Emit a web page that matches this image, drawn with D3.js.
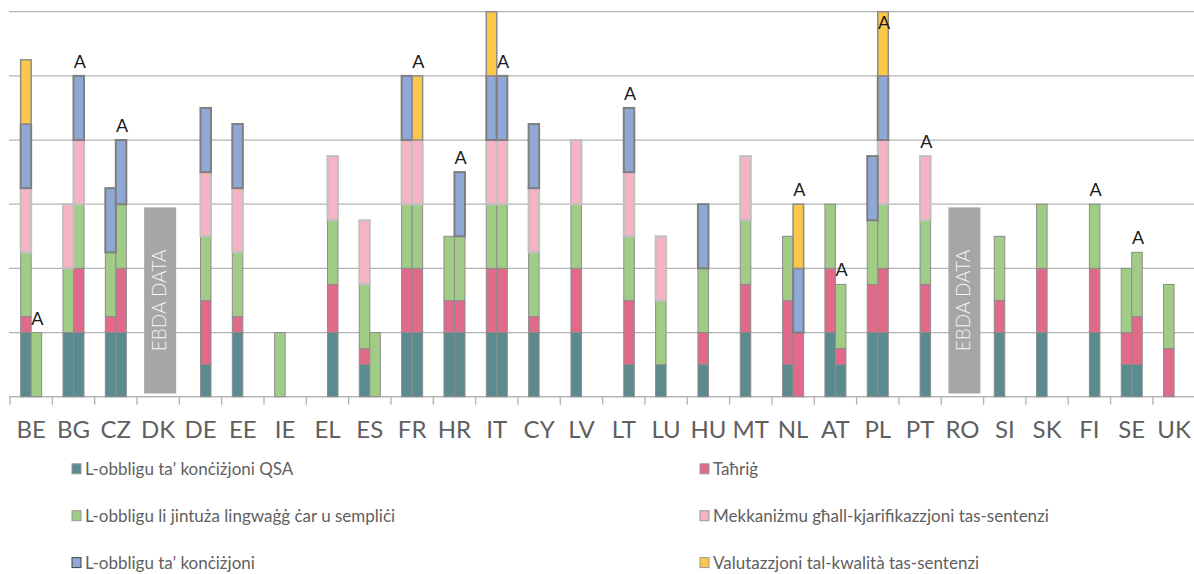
<!DOCTYPE html>
<html><head>
<meta charset="utf-8">
<title>Stacked bars</title>
<script src="https://cdnjs.cloudflare.com/ajax/libs/d3/7.8.5/d3.min.js"></script>
<style>
body { margin: 0; background: #fff; }
svg text { font-family: Lato, 'Open Sans', sans-serif; }
</style>
</head>
<body>
<div class="hull"></div>
<script>
// country codes along the axis
var countries = ["BE","BG","CZ","DK","DE","EE","IE","EL","ES","FR","HR","IT","CY","LV",
                 "LT","LU","HU","MT","NL","AT","PL","PT","RO","SI","SK","FI","SE","UK"];

// each series: [first bar, second bar] per country
var qsa   = [[1,0],[1,1],[1,1],[0,0],[0,.5],[1,0],[0,0],[0,1],[.5,0],[1,1],[1,1],[1,1],[1,0],[1,0],
             [0,.5],[.5,0],[.5,0],[1,0],[.5,0],[1,.5],[1,1],[0,1],[0,0],[1,0],[1,0],[0,1],[.5,.5],[0,0]];
var tahrig= [[.25,0],[0,1],[.25,1],[0,0],[0,1],[.25,0],[0,0],[0,.75],[.25,0],[1,1],[.5,.5],[1,1],[.25,0],[1,0],
             [0,1],[0,0],[.5,0],[.75,0],[1,1],[1,.25],[.75,1],[0,.75],[0,0],[.5,0],[1,0],[0,1],[.5,.75],[.75,0]];
var ling  = [[1,1],[1,1],[1,1],[0,0],[0,1],[1,0],[1,0],[0,1],[1,1],[1,1],[1,1],[1,1],[1,0],[1,0],
             [0,1],[1,0],[1,0],[1,0],[1,0],[1,1],[1,1],[0,1],[0,0],[1,0],[1,0],[0,1],[1,1],[1,0]];
var mekk  = [[1,0],[1,1],[0,0],[0,0],[0,1],[1,0],[0,0],[0,1],[1,0],[1,1],[0,0],[1,1],[1,0],[1,0],
             [0,1],[1,0],[0,0],[1,0],[0,0],[0,0],[0,1],[0,1],[0,0],[0,0],[0,0],[0,0],[0,0],[0,0]];
var konc  = [[1,0],[0,1],[1,1],[0,0],[0,1],[1,0],[0,0],[0,0],[0,0],[1,0],[0,1],[1,1],[1,0],[0,0],
             [0,1],[0,0],[1,0],[0,0],[0,1],[0,0],[1,1],[0,0],[0,0],[0,0],[0,0],[0,0],[0,0],[0,0]];
var valut = [[1,0],[0,0],[0,0],[0,0],[0,0],[0,0],[0,0],[0,0],[0,0],[0,1],[0,0],[1,0],[0,0],[0,0],
             [0,0],[0,0],[0,0],[0,0],[0,1],[0,0],[0,1],[0,0],[0,0],[0,0],[0,0],[0,0],[0,0],[0,0]];

var seriesNames = ["L-obbligu ta\u2019 kon\u010bi\u017cjoni QSA", "Ta\u0127ri\u0121",
                   "L-obbligu li jintu\u017ca lingwa\u0121\u0121 \u010bar u sempli\u010bi",
                   "Mekkani\u017cmu g\u0127all-kjarifikazzjoni tas-sentenzi",
                   "L-obbligu ta\u2019 kon\u010bi\u017cjoni", "Valutazzjoni tal-kwalit\u00e0 tas-sentenzi"];
var seriesData = [qsa, tahrig, ling, mekk, konc, valut];
var colors  = ["#5b8a8f", "#df6a8a", "#a0cc86", "#f5b3c4", "#8fa8d5", "#fdc74a"];
var strokes = ["#8c8c8c", "#8c8c8c", "#8c8c8c", "#c0c0c0", "#7f7f7f", "#8c8c8c"];
var strokeW = [1, 1, 1, 2, 2, 1.5];

// second bar marked with "A"
var marked = ["BE","BG","CZ","FR","HR","IT","LT","NL","AT","PL","PT","FI","SE"];
var noData = ["DK","RO"];
var noDataText = "EBDA DATA";
var yTicks = [0,1,2,3,4,5,6];

var W = 1194, H = 574;
var svg = d3.select(".hull").append("svg").attr("width", W).attr("height", H);

var x = d3.scaleBand().domain(countries).range([10, 10 + 28 * 42.33]);
var sub = d3.scaleBand().domain([0, 1])
    .range([x.bandwidth() / 2 - 10.5, x.bandwidth() / 2 + 10.5]);
var y = d3.scaleLinear().domain([0, 6]).range([396.7, 11.7]);

// gridlines
svg.append("g").selectAll("line").data(yTicks).join("line")
    .attr("x1", 9).attr("x2", W)
    .attr("y1", d => y(d)).attr("y2", d => y(d))
    .attr("stroke", "#b3b3b3").attr("stroke-width", 1.3);

// x axis
var xAxis = svg.append("g").attr("transform", "translate(0," + y(0) + ")");
xAxis.append("line").attr("x1", 9).attr("x2", W).attr("stroke", "#b3b3b3").attr("stroke-width", 1.3);
xAxis.selectAll(".tk").data(countries).join("line")
    .attr("x1", d => x(d)).attr("x2", d => x(d))
    .attr("y1", 0).attr("y2", 8).attr("stroke", "#b3b3b3").attr("stroke-width", 1.3);
xAxis.selectAll(".lbl").data(countries).join("text")
    .attr("x", d => x(d) + x.bandwidth() / 2)
    .attr("y", 41).attr("text-anchor", "middle")
    .attr("font-size", 24).attr("fill", "#5f5f5f")
    .text(d => d);

// rows: one per country and bar
var rows = [];
countries.forEach(function (c, i) {
  [0, 1].forEach(function (b) {
    var r = {country: c, bar: b};
    seriesData.forEach(function (s, k) { r["s" + k] = s[i][b]; });
    rows.push(r);
  });
});
var keys = seriesData.map((s, k) => "s" + k);
var stacked = d3.stack().keys(keys)(rows);

svg.append("g").selectAll("g").data(stacked).join("g")
    .attr("fill", (d, k) => colors[k])
    .attr("stroke", (d, k) => strokes[k])
    .attr("stroke-width", (d, k) => strokeW[k])
  .selectAll("rect").data(d => d.filter(p => p[1] - p[0] > 0)).join("rect")
    .attr("x", p => x(p.data.country) + sub(p.data.bar))
    .attr("width", sub.bandwidth())
    .attr("y", p => y(p[1]))
    .attr("height", p => y(p[0]) - y(p[1]));

// "A" marks
var tops = {};
rows.forEach(function (r) {
  if (r.bar === 1) tops[r.country] = keys.reduce((a, k) => a + r[k], 0);
});
svg.append("g").selectAll("text").data(marked).join("text")
    .attr("x", d => x(d) + sub(1) + sub.bandwidth() / 2 + 1)
    .attr("y", d => Math.max(y(tops[d]) - 8, 29))
    .attr("text-anchor", "middle")
    .attr("font-family", "'Liberation Sans', Arial, sans-serif")
    .attr("font-size", 18).attr("fill", "#1a1a1a")
    .text("A");

// no-data boxes
var nd = svg.append("g").selectAll("g").data(noData).join("g");
nd.append("rect")
    .attr("x", d => x(d) + x.bandwidth() / 2 - 14)
    .attr("width", 32)
    .attr("y", y(2.95)).attr("height", y(0.05) - y(2.95))
    .attr("fill", "#a6a6a6");
nd.append("text")
    .attr("transform", d => "translate(" + (x(d) + x.bandwidth() / 2 + 8) + "," + y(1.5) + ") rotate(-90)")
    .attr("text-anchor", "middle")
    .attr("font-size", 19).attr("font-weight", 300).attr("fill", "#f4f4f4")
    .text(noDataText);

// legend, two columns
var legend = svg.append("g").selectAll("g").data(seriesNames).join("g")
    .attr("transform", (d, i) => "translate(" + (i % 2 ? 700 : 72) + "," + (468.8 + Math.floor(i / 2) * 46.9) + ")");
legend.append("rect")
    .attr("x", 0).attr("y", -5).attr("width", 9).attr("height", 10)
    .attr("fill", (d, i) => colors[i])
    .attr("stroke", (d, i) => i === 4 ? "#404040" : "#999")
    .attr("stroke-width", 1);
legend.append("text")
    .attr("x", 13).attr("y", 6)
    .attr("font-size", 17).attr("fill", "#5f5f5f")
    .text(d => d);
</script>
</body>
</html>
